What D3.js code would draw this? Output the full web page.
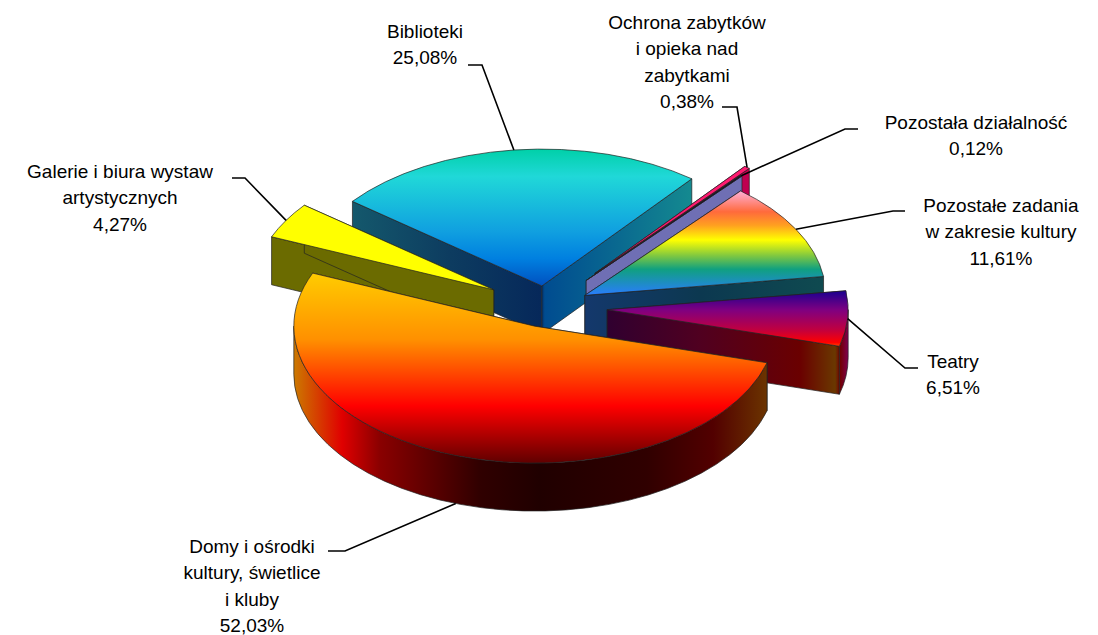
<!DOCTYPE html>
<html>
<meta charset="utf-8">
<style>
body { margin: 0; background: #fff; }
text { font-family: "Liberation Sans", Arial, sans-serif; font-size: 19px; fill: #000; text-anchor: middle; }
.leader { fill: none; stroke: #000; stroke-width: 1.6px; }
.face { stroke: #222; stroke-width: 0.7px; vector-effect: non-scaling-stroke; stroke-linejoin: round; }
</style>
<body>
<script src="https://d3js.org/d3.v7.min.js"></script>
<script>

// data, in the order the slices go round the pie
var categories = [
  ["Domy i ośrodki", "kultury, świetlice", "i kluby"],
  ["Galerie i biura wystaw", "artystycznych"],
  ["Biblioteki"],
  ["Ochrona zabytków", "i opieka nad", "zabytkami"],
  ["Pozostała działalność"],
  ["Pozostałe zadania", "w zakresie kultury"],
  ["Teatry"]
];
var values = [52.03, 4.27, 25.08, 0.38, 0.12, 11.61, 6.51];
var valueLabels = ["52,03%", "4,27%", "25,08%", "0,38%", "0,12%", "11,61%", "6,51%"];

// pie geometry
var cx = 546.3, cy = 307.4, radius = 241, tilt = 0.568, depth = 48;
var startAngle = 105.5 * Math.PI / 180;
var explode = [35, 61, 38, 77, 62, 44, 61];
var drawOrder = [2, 3, 4, 5, 6, 1, 0];

// label layout: text centre, first baseline, leader elbow and the leader's end at the text
var labelPos = [
  {x: 252, y: 553, elbow: [345, 551], end: [328, 551], low: true},
  {x: 120, y: 178, elbow: [245, 178], end: [232, 178]},
  {x: 425, y: 38, elbow: [482, 65], end: [468, 65]},
  {x: 687, y: 29, elbow: [737, 107], end: [722, 107]},
  {x: 976, y: 129, elbow: [845, 129], end: [858, 129]},
  {x: 1001, y: 212, elbow: [893, 211], end: [905, 211]},
  {x: 953, y: 368, elbow: [905, 368], end: [918, 368]}
];

// colours of the top faces (vertical) and the walls (horizontal, across the pie width)
var topStops = [
  [[0, "#ffcc00"], [0.35, "#ff9000"], [0.7, "#ff0000"], [1, "#600000"]],
  [[0, "#ffff00"], [1, "#ffff00"]],
  [[0, "#00d0a8"], [0.2, "#20d8d8"], [0.6, "#10a0e0"], [0.8, "#0080e0"], [1, "#0050c0"]],
  [[0, "#ff1a70"], [1, "#ff1a70"]],
  [[0, "#101020"], [1, "#101020"]],
  [[0, "#ffb0d8"], [0.2, "#ff6a3c"], [0.33, "#ffa020"], [0.47, "#ffff00"], [0.62, "#80c840"], [0.75, "#10a080"], [1, "#2a7cff"]],
  [[0, "#1a0090"], [0.35, "#800080"], [0.7, "#c00040"], [0.93, "#ff0000"], [1, "#ff4000"]]
];
var wallStops = [
  [[0, "#cc7a00"], [0.1, "#e00000"], [0.178, "#8a0000"], [0.386, "#300000"], [0.51, "#200000"], [0.732, "#300000"], [0.87, "#520000"], [0.98, "#6b3300"]],
  [[0, "#6b6b00"], [1, "#6b6b00"]],
  [[0.108, "#14586c"], [0.309, "#0d3c60"], [0.498, "#06285a"], [0.506, "#004c90"], [0.662, "#0a6a90"], [0.811, "#148a90"]],
  [[0, "#c00050"], [1, "#c00050"]],
  [[0, "#6f6fb4"], [1, "#6f6fb4"]],
  [[0.5, "#14386c"], [0.739, "#0c3850"], [0.994, "#0f4a50"]],
  [[0.5, "#300030"], [0.693, "#500020"], [0.9, "#6a0000"], [0.973, "#6a3800"], [0.983, "#700000"], [1, "#800050"]]
];

var svg = d3.select("body").append("svg")
    .attr("width", 1098)
    .attr("height", 635);

var defs = svg.append("defs");

function addStops(grad, stops) {
  stops.forEach(function(s) {
    grad.append("stop").attr("offset", s[0]).attr("stop-color", s[1]);
  });
}

var pie = d3.pie().sort(null).startAngle(startAngle).endAngle(startAngle + 2 * Math.PI);
var slices = pie(values);
var arc = d3.arc().innerRadius(0).outerRadius(radius);

slices.forEach(function(d, i) {
  addStops(defs.append("linearGradient").attr("id", "top" + i)
    .attr("x1", 0).attr("y1", 0).attr("x2", 0).attr("y2", 1), topStops[i]);
  addStops(defs.append("linearGradient").attr("id", "wall" + i)
    .attr("gradientUnits", "userSpaceOnUse")
    .attr("x1", -radius).attr("y1", 0).attr("x2", radius).attr("y2", 0), wallStops[i]);

  // d3 angles start at north, the canvas ones at east
  d.t0 = d.startAngle - Math.PI / 2;
  d.t1 = d.endAngle - Math.PI / 2;
  d.mid = (d.t0 + d.t1) / 2;
  d.ox = cx + explode[i] * Math.cos(d.mid);
  d.oy = cy + explode[i] * Math.sin(d.mid) * tilt;
});

// everything is drawn on the flat circle and squashed by the group transform
var h = depth / tilt;

function radialFace(t) {
  var p = d3.path(), x = radius * Math.cos(t), y = radius * Math.sin(t);
  p.moveTo(0, 0);
  p.lineTo(x, y);
  p.lineTo(x, y + h);
  p.lineTo(0, h);
  p.closePath();
  return p.toString();
}

function outerFace(t0, t1) {
  var p = d3.path();
  p.arc(0, 0, radius, t0, t1);
  p.arc(0, h, radius, t1, t0, true);
  p.closePath();
  return p.toString();
}

// only the part of the rim that faces the viewer
function frontRanges(d) {
  var out = [];
  [0, 2 * Math.PI].forEach(function(base) {
    var a = Math.max(d.t0, base), b = Math.min(d.t1, base + Math.PI);
    if (b > a) out.push([a, b]);
  });
  return out;
}

drawOrder.forEach(function(i) {
  var d = slices[i];
  var g = svg.append("g")
      .attr("transform", "translate(" + d.ox + "," + d.oy + ") scale(1," + tilt + ")");

  g.selectAll("path.radial").data([d.t0, d.t1]).enter().append("path")
      .attr("class", "radial face")
      .attr("fill", "url(#wall" + i + ")")
      .attr("d", radialFace);

  g.selectAll("path.outer").data(frontRanges(d)).enter().append("path")
      .attr("class", "outer face")
      .attr("fill", "url(#wall" + i + ")")
      .attr("d", function(r) { return outerFace(r[0], r[1]); });

  g.append("path")
      .attr("class", "top face")
      .attr("fill", "url(#top" + i + ")")
      .attr("d", arc(d));
});

// leaders start from the middle of each slice's rim
var line = d3.line();
slices.forEach(function(d, i) {
  var pos = labelPos[i];
  var ax = d.ox + radius * Math.cos(d.mid);
  var ay = d.oy + radius * Math.sin(d.mid) * tilt + (pos.low ? depth : 0);
  svg.append("path")
      .attr("class", "leader")
      .attr("d", line([[ax, ay], pos.elbow, pos.end]));

  var lines = categories[i].concat(valueLabels[i]);
  var text = svg.append("text");
  lines.forEach(function(s, j) {
    text.append("tspan")
        .attr("x", pos.x)
        .attr("y", pos.y + j * 26.3)
        .text(s);
  });
});

</script>
</body>
</html>
